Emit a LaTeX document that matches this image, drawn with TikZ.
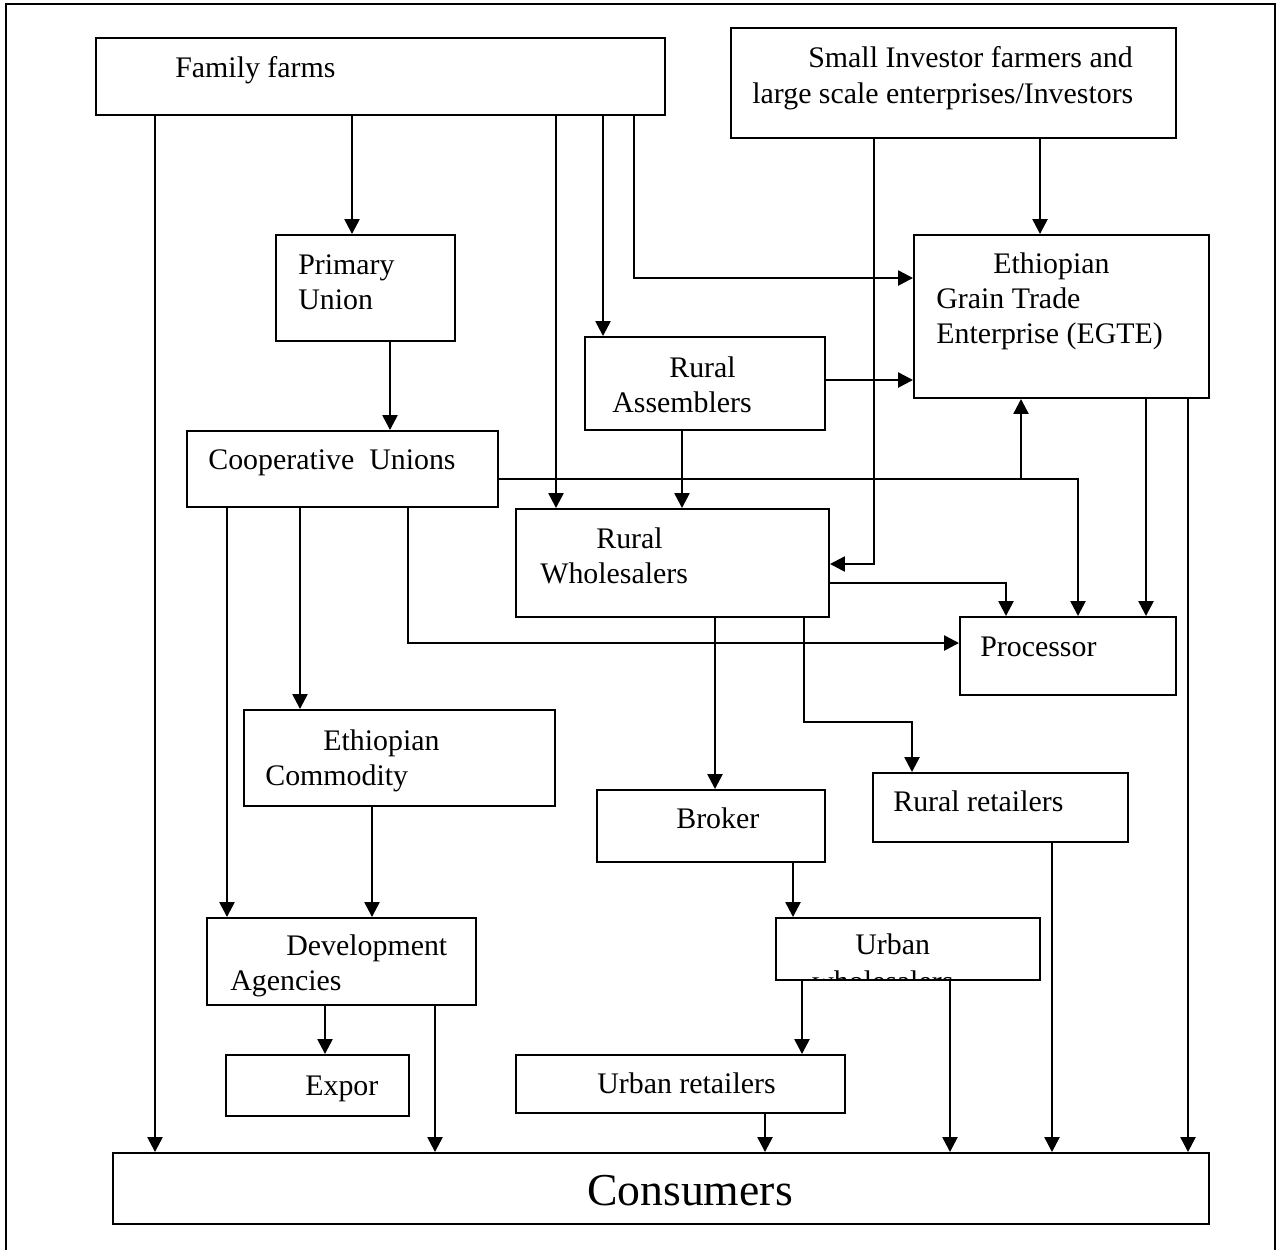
\documentclass[tikz,border=0pt]{standalone}
\usepackage{fontspec}
\setmainfont{Liberation Serif}
\usetikzlibrary{arrows.meta,fit}

\tikzset{
  box/.style={draw, line width=1.1pt, inner sep=0pt},
  txt/.style={anchor=base west, inner sep=0pt,
    font=\fontsize{17}{20}\selectfont},
  arr/.style={line width=1.4pt, -{Triangle[length=0.3cm,width=0.3cm]}}
}

\begin{document}
\begin{tikzpicture}[x=0.02cm,y=-0.02cm]
      \useasboundingbox (0,0) rectangle (1281,1249);
      % frame
      \draw[line width=1.1pt] (6,1260) -- (6,4) -- (1275,4) -- (1275,1260);

      % boxes
      \node[box, fit={(96,38) (665,115)}] (ff) {};
      \node[box, fit={(731,28) (1176,138)}] (inv) {};
      \node[box, fit={(276,235) (455,341)}] (pu) {};
      \node[box, fit={(914,235) (1209,398)}] (egte) {};
      \node[box, fit={(585,337) (825,430)}] (ra) {};
      \node[box, fit={(187,431) (498,507)}] (coop) {};
      \node[box, fit={(516,509) (829,617)}] (rw) {};
      \node[box, fit={(960,617) (1176,695)}] (proc) {};
      \node[box, fit={(244,710) (555,806)}] (ecx) {};
      \node[box, fit={(873,773) (1128,842)}] (rr) {};
      \node[box, fit={(597,790) (825,862)}] (brk) {};
      \node[box, fit={(207,918) (476,1005)}] (dev) {};
      \node[box, fit={(776,918) (1040,980)}] (uw) {};
      \node[box, fit={(226,1055) (409,1116)}] (exp) {};
      \node[box, fit={(516,1055) (845,1113)}] (ur) {};
      \node[box, fit={(113,1153) (1209,1224)}] (cons) {};

      % texts
      \node[txt] (ff-t) at (175,77) {Family farms};
      \node[txt] (inv-t1) at (808,67) {Small Investor farmers and};
      \node[txt] (inv-t2) at (752,103) {large scale enterprises/Investors};
      \node[txt] (pu-t1) at (298,274) {Primary};
      \node[txt] (pu-t2) at (298,309) {Union};
      \node[txt] (egte-t1) at (993,273) {Ethiopian};
      \node[txt] (egte-t2) at (936,308) {Grain Trade};
      \node[txt] (egte-t3) at (936,343) {Enterprise (EGTE)};
      \node[txt] (ra-t1) at (669,377) {Rural};
      \node[txt] (ra-t2) at (612,412) {Assemblers};
      \node[txt] (coop-t) at (208,469) {Cooperative\ \ Unions};
      \node[txt] (rw-t1) at (596,548) {Rural};
      \node[txt] (rw-t2) at (540,583) {Wholesalers};
      \node[txt] (proc-t) at (980,656) {Processor};
      \node[txt] (ecx-t1) at (323,750) {Ethiopian};
      \node[txt] (ecx-t2) at (265,785) {Commodity};
      \node[txt] (rr-t) at (893,811) {Rural retailers};
      \node[txt] (brk-t) at (676,828) {Broker};
      \node[txt] (dev-t1) at (286,955) {Development};
      \node[txt] (dev-t2) at (230,990) {Agencies};
      \node[txt] (uw-t1) at (855,954) {Urban};
      \begin{scope}
        \clip (uw.north west) rectangle (uw.south east);
        \node[txt] (uw-t2) at (812,991) {wholesalers};
      \end{scope}
      \node[txt] (exp-t) at (305,1095) {Expor};
      \node[txt] (ur-t) at (597,1093) {Urban retailers};
      \node[anchor=base, inner sep=0pt, font=\fontsize{26}{30}\selectfont]
        (cons-t) at (690,1205) {Consumers};

      % links
      \coordinate (jn) at (1021,479);
      \draw[arr] (155,0 |- ff.south) -- (155,0 |- cons.north);
      \draw[arr] (352,0 |- ff.south) -- (352,0 |- pu.north);
      \draw[arr] (556,0 |- ff.south) -- (556,0 |- rw.north);
      \draw[arr] (603,0 |- ff.south) -- (603,0 |- ra.north);
      \draw[arr] (634,0 |- ff.south) -- (634,278) -- (0,278 -| egte.west);
      \draw[arr] (874,0 |- inv.south) -- (874,564) -- (0,564 -| rw.east);
      \draw[arr] (1040,0 |- inv.south) -- (1040,0 |- egte.north);
      \draw[arr] (390,0 |- pu.south) -- (390,0 |- coop.north);
      \draw[arr] (0,380 -| ra.east) -- (0,380 -| egte.west);
      \draw[arr] (682,0 |- ra.south) -- (682,0 |- rw.north);
      \draw[arr] (0,479 -| coop.east) -- (1078,479) -- (1078,0 |- proc.north);
      \draw[arr] (jn) -- (jn |- egte.south);
      \draw[arr] (1146,0 |- egte.south) -- (1146,0 |- proc.north);
      \draw[arr] (1188,0 |- egte.south) -- (1188,0 |- cons.north);
      \draw[arr] (227,0 |- coop.south) -- (227,0 |- dev.north);
      \draw[arr] (300,0 |- coop.south) -- (300,0 |- ecx.north);
      \draw[arr] (408,0 |- coop.south) -- (408,643) -- (0,643 -| proc.west);
      \draw[arr] (0,583 -| rw.east) -- (1006,583) -- (1006,0 |- proc.north);
      \draw[arr] (715,0 |- rw.south) -- (715,0 |- brk.north);
      \draw[arr] (804,0 |- rw.south) -- (804,722) -- (912,722) -- (912,0 |- rr.north);
      \draw[arr] (372,0 |- ecx.south) -- (372,0 |- dev.north);
      \draw[arr] (793,0 |- brk.south) -- (793,0 |- uw.north);
      \draw[arr] (1052,0 |- rr.south) -- (1052,0 |- cons.north);
      \draw[arr] (325,0 |- dev.south) -- (325,0 |- exp.north);
      \draw[arr] (435,0 |- dev.south) -- (435,0 |- cons.north);
      \draw[arr] (802,0 |- uw.south) -- (802,0 |- ur.north);
      \draw[arr] (950,0 |- uw.south) -- (950,0 |- cons.north);
      \draw[arr] (765,0 |- ur.south) -- (765,0 |- cons.north);
\end{tikzpicture}
\end{document}
